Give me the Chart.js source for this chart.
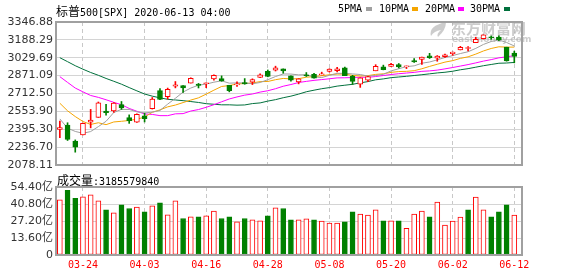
<!DOCTYPE html>
<html>
<head>
<meta charset="utf-8">
<script src="https://cdn.jsdelivr.net/npm/chart.js@4.4.0/dist/chart.umd.min.js"></script>
<style>
body { margin: 0; background: #fff; }
#wrap { position: relative; width: 578px; height: 276px; overflow: hidden; }
#wrap canvas { position: absolute; left: 0; top: 0; }
.t { position: absolute; font: 10px "DejaVu Sans Mono", monospace; color: #000; white-space: nowrap; line-height: 14px; }
.t .cn { font: 12px "Noto Sans CJK SC", sans-serif; }
.sq { position: absolute; top: 7px; width: 6px; height: 4px; }
</style>
</head>
<body>
<div id="wrap">
  <canvas id="chartPreco" width="578" height="276"></canvas>
  <canvas id="chartVolume" width="578" height="276"></canvas>
  <div class="t" style="left:56px;top:2px"><span class="cn">标普</span>500[SPX] 2020-06-13 04:00</div>
  <div class="t" style="left:338px;top:2px">5PMA</div><div class="sq" style="left:366px;background:#a0a0a0"></div>
  <div class="t" style="left:379px;top:2px">10PMA</div><div class="sq" style="left:412px;background:#f5a500"></div>
  <div class="t" style="left:425px;top:2px">20PMA</div><div class="sq" style="left:458px;background:#ff00ff"></div>
  <div class="t" style="left:470px;top:2px">30PMA</div><div class="sq" style="left:504px;background:#00703c"></div>
  <div class="t" style="left:57px;top:171px"><span class="cn">成交量</span>:3185579840</div>
</div>
<script>
Chart.defaults.font.family = '"DejaVu Sans", "Noto Sans CJK SC", sans-serif';
Chart.defaults.animation = false;

var labels = ['03-19','03-20','03-23','03-24','03-25','03-26','03-27','03-30','03-31','04-01',
  '04-02','04-03','04-06','04-07','04-08','04-09','04-13','04-14','04-15','04-16',
  '04-17','04-20','04-21','04-22','04-23','04-24','04-27','04-28','04-29','04-30',
  '05-01','05-04','05-05','05-06','05-07','05-08','05-11','05-12','05-13','05-14',
  '05-15','05-18','05-19','05-20','05-21','05-22','05-26','05-27','05-28','05-29',
  '06-01','06-02','06-03','06-04','06-05','06-08','06-09','06-10','06-11','06-12'];
var abertura = [2393.48,2431.94,2290.71,2344.44,2457.77,2501.29,2555.87,2558.98,2614.69,2498.08,
  2458.54,2514.92,2578.28,2738.65,2685.00,2776.99,2782.46,2805.10,2795.64,2799.34,
  2842.43,2845.62,2784.81,2787.89,2810.42,2812.64,2854.65,2909.96,2918.46,2930.91,
  2869.09,2815.01,2868.88,2883.14,2878.26,2908.83,2915.46,2939.50,2865.86,2794.54,
  2829.95,2913.86,2948.59,2953.63,2969.95,2948.05,3004.08,3015.65,3046.61,3025.17,
  3038.78,3064.78,3098.90,3111.56,3163.84,3199.92,3213.32,3213.42,3123.53,3071.04];
var maxima = [2466.97,2453.01,2300.73,2449.71,2571.42,2637.01,2615.91,2631.80,2641.39,2522.75,
  2533.22,2538.18,2676.85,2756.89,2760.75,2818.57,2782.46,2851.85,2801.88,2806.51,
  2879.22,2868.98,2785.54,2815.10,2844.90,2842.71,2887.72,2921.15,2954.86,2930.91,
  2869.09,2844.24,2898.23,2891.11,2901.92,2932.16,2944.25,2945.82,2874.14,2852.80,
  2865.01,2968.09,2964.21,2980.29,2978.50,2956.76,3021.72,3036.25,3068.67,3049.17,
  3062.18,3081.07,3130.94,3128.91,3211.72,3233.13,3222.71,3223.27,3123.53,3088.42];
var minima = [2319.78,2295.56,2191.86,2344.44,2407.53,2500.72,2520.02,2545.28,2571.15,2447.49,
  2455.79,2459.96,2574.57,2657.67,2663.30,2762.36,2721.17,2805.10,2761.54,2764.32,
  2830.88,2820.43,2727.10,2775.95,2794.26,2791.76,2852.89,2860.71,2912.16,2892.47,
  2821.61,2797.85,2863.55,2847.65,2876.48,2902.88,2903.44,2869.59,2793.15,2766.64,
  2816.78,2913.86,2922.35,2953.63,2938.57,2933.59,2988.17,2969.75,3023.40,2998.61,
  3031.54,3051.64,3098.90,3090.41,3163.84,3196.00,3193.11,3181.49,2999.49,2984.47];
var fechamento = [2409.39,2304.92,2237.40,2447.33,2475.56,2630.07,2541.47,2626.65,2584.59,2470.50,
  2526.90,2488.65,2663.68,2659.41,2749.98,2789.82,2761.63,2846.06,2783.36,2799.55,
  2874.56,2823.16,2736.56,2799.31,2797.80,2836.74,2878.48,2863.39,2939.51,2912.43,
  2830.71,2842.74,2868.44,2848.42,2881.19,2929.80,2930.32,2870.12,2820.00,2852.50,
  2863.70,2953.91,2922.94,2971.61,2948.51,2955.45,2991.77,3036.13,3029.73,3044.31,
  3055.73,3080.82,3122.87,3112.35,3193.93,3232.39,3207.18,3190.14,3002.10,3041.31];
var fechamentoAnterior = 2398.10;

var ma5 = [2487,2405,2376,2359,2375,2419,2466,2544,2572,2571,2550,2540,2547,2562,2618,2670,2725,2761,2786,2796,
  2813,2825,2804,2807,2806,2799,2810,2835,2863,2886,2885,2878,2879,2860,2854,2874,2891,2892,2886,2881,
  2867,2872,2883,2913,2932,2951,2958,2981,2992,3011,3032,3049,3067,3083,3113,3148,3174,3187,3165,3134];
var ma10 = [2626,2559,2508,2464,2438,2453,2436,2460,2466,2473,2485,2503,2546,2567,2594,2610,2632,2654,2674,2707,
  2742,2775,2783,2797,2801,2806,2818,2819,2835,2846,2842,2844,2857,2862,2870,2879,2885,2885,2873,2867,
  2871,2882,2887,2900,2907,2909,2915,2932,2953,2972,2991,3004,3024,3038,3062,3090,3112,3127,3124,3124];
var ma20 = [2862,2811,2761,2727,2695,2678,2657,2634,2613,2580,2555,2531,2527,2516,2516,2532,2534,2557,2570,2590,
  2613,2639,2664,2682,2698,2708,2725,2737,2755,2777,2792,2810,2820,2829,2836,2843,2851,2852,2854,2857,
  2856,2863,2872,2881,2888,2894,2900,2909,2913,2920,2931,2943,2956,2969,2984,3000,3013,3029,3038,3048];
var ma30 = [3030,2995,2959,2928,2899,2874,2846,2821,2795,2765,2736,2708,2689,2674,2661,2655,2649,2641,2633,2622,
  2617,2612,2612,2609,2611,2623,2629,2645,2658,2675,2689,2707,2728,2742,2755,2765,2778,2786,2794,2807,
  2818,2834,2842,2853,2859,2865,2872,2879,2887,2895,2901,2910,2923,2933,2946,2959,2970,2981,2983,2988];

// volume em 亿
var volume = [44.2,51.7,45.3,46.6,48.2,43.4,36.2,33.8,40.2,37.2,38.3,34.6,39.4,41.8,32.2,43.4,29.2,30.6,30.6,31.4,
  35.1,29.2,30.6,26.5,29.2,28.1,27.3,31.4,37.8,37.2,28.1,28.1,28.9,28.1,27.1,25.5,25.5,26.5,34.6,32.7,
  31.9,36.2,27.3,27.3,27.3,21.4,32.7,35.1,30.6,42.3,23.9,27.1,30.3,36.2,46.4,36.2,30.6,34.6,40.2,31.86];

var ticksPreco = [2078.11, 2236.70, 2395.30, 2553.90, 2712.50, 2871.09, 3029.69, 3188.29, 3346.88];
var ticksVolume = [0, 13.60, 27.20, 40.80, 54.40];
var labelsEixo = ['03-24','04-03','04-16','04-28','05-08','05-20','06-02','06-12'];

var vermelho = '#ff0000';
var verde = '#008000';
var posEixo = labelsEixo.map(function (l) { return labels.indexOf(l); });

var corCandle = labels.map(function (d, i) { return fechamento[i] >= abertura[i] ? vermelho : verde; });
var corVolume = labels.map(function (d, i) {
    var ant = i === 0 ? fechamentoAnterior : fechamento[i - 1];
    return fechamento[i] >= ant ? vermelho : verde;
});

var moldura = {
    id: 'moldura',
    afterDraw: function (chart) {
        var a = chart.chartArea, ctx = chart.ctx;
        ctx.save();
        ctx.strokeStyle = '#a0a0a0';
        ctx.lineWidth = 2;
        ctx.strokeRect(a.left, a.top, a.right - a.left, a.bottom - a.top);
        ctx.restore();
    }
};

// logo + texto cinza do canto superior direito
var marcaDagua = {
    id: 'marcaDagua',
    beforeDatasetsDraw: function (chart) {
        var ctx = chart.ctx;
        ctx.save();
        ctx.fillStyle = 'rgba(170,170,170,0.6)';
        ctx.beginPath();
        ctx.moveTo(446, 22);
        ctx.quadraticCurveTo(428, 26, 431, 36);
        ctx.quadraticCurveTo(434, 31, 441, 30);
        ctx.quadraticCurveTo(436, 34, 438, 37);
        ctx.quadraticCurveTo(446, 30, 446, 22);
        ctx.fill();
        ctx.textBaseline = 'middle';
        ctx.font = 'bold 15px "Noto Sans CJK SC"';
        ctx.fillText('东方财富网', 451, 28);
        ctx.font = 'bold 9px "DejaVu Sans"';
        ctx.fillText('eastmoney.com', 452, 40);
        ctx.restore();
    }
};

function eixoX(mostrar) {
    return {
        type: 'linear',
        min: -0.5,
        max: 60,
        offset: false,
        grid: { color: '#c8c8c8', drawTicks: false, offset: false },
        border: { display: false, dash: [4, 3] },
        afterBuildTicks: function (s) {
            s.ticks = posEixo.map(function (v) { return { value: v }; });
        },
        afterFit: function (s) { s.height = mostrar ? 21 : 0; },
        ticks: {
            display: mostrar,
            autoSkip: false,
            maxRotation: 0,
            padding: 4,
            color: vermelho,
            font: { family: '"DejaVu Sans Mono"', size: 10 },
            callback: function (v) { return labels[v]; }
        }
    };
}

const ctxPreco = document.getElementById('chartPreco');
var chartPreco = new Chart(ctxPreco, {
    type: 'bar',
    data: {
        datasets: [{
            label: 'corpo',
            data: labels.map(function (d, i) { return { x: i, y: [abertura[i], fechamento[i]] }; }),
            backgroundColor: corCandle.map(function (c) { return c === vermelho ? '#ffffff' : verde; }),
            borderColor: corCandle,
            borderWidth: 1,
            borderSkipped: false,
            barThickness: 5,
            minBarLength: 1,
            grouped: false,
            order: 0
        }, {
            label: 'sombra',
            data: labels.map(function (d, i) { return { x: i, y: [minima[i], maxima[i]] }; }),
            backgroundColor: corCandle,
            borderWidth: 0,
            barThickness: 1,
            grouped: false,
            order: 1
        }, {
            type: 'line', label: '5PMA',
            data: ma5.map(function (v, i) { return { x: i, y: v }; }),
            borderColor: '#a0a0a0', borderWidth: 1, pointRadius: 0, order: 2
        }, {
            type: 'line', label: '10PMA',
            data: ma10.map(function (v, i) { return { x: i, y: v }; }),
            borderColor: '#f5a500', borderWidth: 1, pointRadius: 0, order: 3
        }, {
            type: 'line', label: '20PMA',
            data: ma20.map(function (v, i) { return { x: i, y: v }; }),
            borderColor: '#ff00ff', borderWidth: 1, pointRadius: 0, order: 4
        }, {
            type: 'line', label: '30PMA',
            data: ma30.map(function (v, i) { return { x: i, y: v }; }),
            borderColor: '#00703c', borderWidth: 1, pointRadius: 0, order: 5
        }]
    },
    options: {
        responsive: false,
        layout: { padding: { top: 22, right: 56, bottom: 111, left: 0 } },
        plugins: { legend: { display: false }, tooltip: { enabled: false } },
        scales: {
            x: eixoX(false),
            y: {
                min: 2078.11,
                max: 3346.88,
                beginAtZero: false,
                grid: { color: '#d4d4d4', drawTicks: false },
                border: { display: false },
                afterBuildTicks: function (s) {
                    s.ticks = ticksPreco.map(function (v) { return { value: v }; });
                },
                afterFit: function (s) { s.width = 56; },
                ticks: {
                    padding: 3,
                    color: '#333',
                    font: { size: 11 },
                    callback: function (v) { return v.toFixed(2); }
                }
            }
        }
    },
    plugins: [moldura, marcaDagua]
});

const ctxVolume = document.getElementById('chartVolume');
var chartVolume = new Chart(ctxVolume, {
    type: 'bar',
    data: {
        datasets: [{
            label: '成交量',
            data: volume.map(function (v, i) { return { x: i, y: v }; }),
            backgroundColor: corVolume.map(function (c) { return c === vermelho ? '#ffffff' : verde; }),
            borderColor: corVolume,
            borderWidth: 1,
            borderSkipped: false,
            barThickness: 5,
            grouped: false
        }]
    },
    options: {
        responsive: false,
        layout: { padding: { top: 187, right: 56, bottom: 0, left: 0 } },
        plugins: { legend: { display: false }, tooltip: { enabled: false } },
        scales: {
            x: eixoX(true),
            y: {
                min: 0,
                max: 54.4,
                grid: { color: '#d4d4d4', drawTicks: false },
                border: { display: false },
                afterBuildTicks: function (s) {
                    s.ticks = ticksVolume.map(function (v) { return { value: v }; });
                },
                afterFit: function (s) { s.width = 56; },
                ticks: {
                    padding: 3,
                    color: '#333',
                    font: { size: 11 },
                    callback: function (v) { return v === 0 ? '0' : v.toFixed(2) + '亿'; }
                }
            }
        }
    },
    plugins: [moldura]
});
</script>
</body>
</html>
